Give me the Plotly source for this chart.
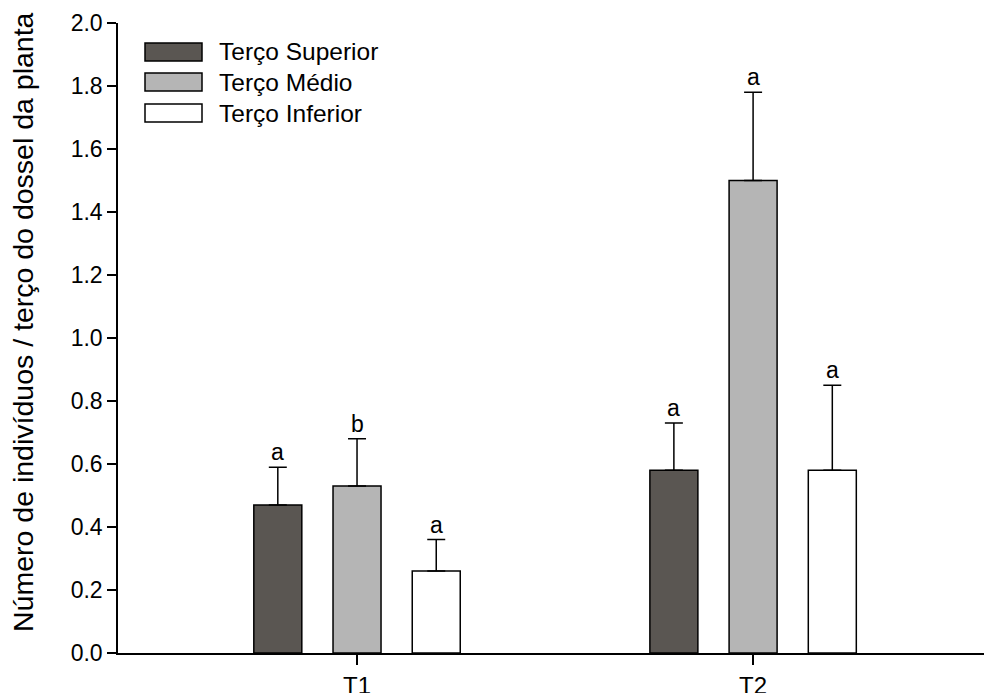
import plotly.graph_objects as go

categories = ["T1", "T2"]
series_names = ["Terço Superior", "Terço Médio", "Terço Inferior"]
superior = [0.47, 0.58]
medio = [0.53, 1.50]
inferior = [0.26, 0.58]
superior_err = [0.12, 0.15]
medio_err = [0.15, 0.28]
inferior_err = [0.10, 0.27]
superior_letters = ["a", "a"]
medio_letters = ["b", "a"]
inferior_letters = ["a", "a"]

colors = ["#5a5652", "#b5b5b5", "#ffffff"]
FONT = "Liberation Sans, Arial, sans-serif"

values = [superior, medio, inferior]
errors = [superior_err, medio_err, inferior_err]
letters = [superior_letters, medio_letters, inferior_letters]

W, H = 984, 693
ML, MR, MT, MB = 118, 0, 23, 40
PW, PH = W - ML - MR, H - MT - MB

BARGAP = 0.4
n = len(series_names)
slot = (1 - BARGAP) / n

fig = go.Figure()
for k in range(n):
    fig.add_trace(go.Bar(
        x=categories, y=values[k], name=series_names[k],
        marker=dict(color=colors[k], line=dict(color="black", width=1.5)),
        error_y=dict(type="data", symmetric=False, array=errors[k],
                     arrayminus=[0] * len(categories),
                     color="black", thickness=1.5, width=9),
        showlegend=False,
    ))

annotations = []
for k in range(n):
    off = -(1 - BARGAP) / 2 + slot * (k + 0.5)
    for i in range(len(categories)):
        annotations.append(dict(
            x=i + off, y=values[k][i] + errors[k][i], xref="x", yref="y",
            text=letters[k][i], showarrow=False, yanchor="bottom", yshift=0,
            font=dict(size=23, color="black", family=FONT)))

# y axis title
annotations.append(dict(
    x=(23 - ML) / PW, y=(H - MB - 322) / PH, xref="paper", yref="paper",
    text="Número de indivíduos / terço do dossel da planta", textangle=-90,
    showarrow=False, xanchor="center", yanchor="middle",
    font=dict(size=28.5, color="black", family=FONT)))

# manual legend
shapes = []
row_centers = [52, 82, 113]
for k in range(n):
    cy = row_centers[k]
    shapes.append(dict(
        type="rect", xref="paper", yref="paper",
        x0=(145 - ML) / PW, x1=(202 - ML) / PW,
        y0=(H - MB - (cy - 9)) / PH, y1=(H - MB - (cy + 9)) / PH,
        fillcolor=colors[k], line=dict(color="black", width=1.5)))
    annotations.append(dict(
        x=(217 - ML) / PW, y=(H - MB - cy) / PH, xref="paper", yref="paper",
        text=series_names[k], showarrow=False, xanchor="left", yanchor="middle",
        font=dict(size=24.5, color="black", family=FONT)))

fig.update_layout(
    width=W, height=H,
    margin=dict(l=ML, r=MR, t=MT, b=MB, pad=0, autoexpand=False),
    paper_bgcolor="white", plot_bgcolor="white",
    barmode="group", bargap=BARGAP, bargroupgap=0.394,
    font=dict(family=FONT, size=23, color="black"),
    annotations=annotations, shapes=shapes,
    xaxis=dict(type="category", range=[-0.6035, 1.583], showline=True,
               linecolor="black", linewidth=1.5, ticks="outside", ticklen=10,
               tickwidth=1.5, tickcolor="black", showgrid=False,
               tickfont=dict(size=24), fixedrange=True, automargin=False),
    yaxis=dict(range=[0, 2.0], dtick=0.2, tick0=0, tickformat=".1f",
               showline=True, linecolor="black", linewidth=1.5,
               ticks="outside", ticklen=9, tickwidth=1.5, tickcolor="black",
               showgrid=False, zeroline=False, tickfont=dict(size=23),
               fixedrange=True, automargin=False),
)

fig.write_html(
    "out.html",
    config={"displayModeBar": False},
    post_script="document.body.style.margin='0';document.body.style.overflow='hidden';",
)
